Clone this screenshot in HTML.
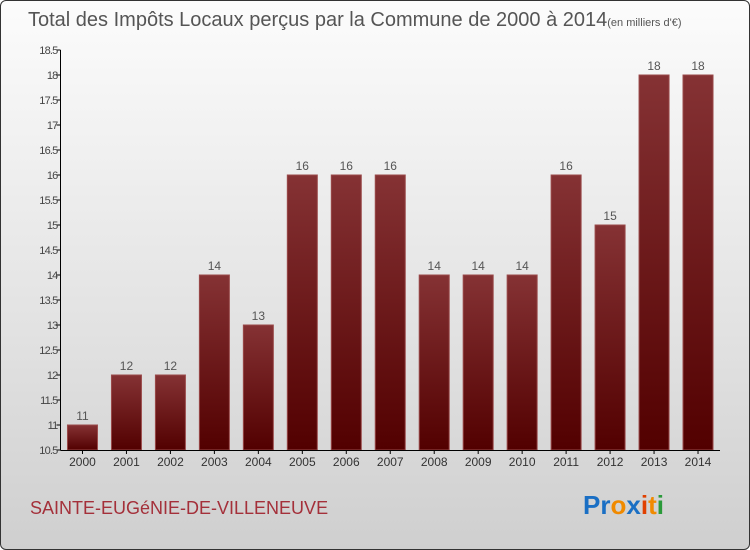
<!DOCTYPE html>
<html><head><meta charset="utf-8"><style>
html,body{margin:0;padding:0}
body{width:750px;height:550px;overflow:hidden;font-family:"Liberation Sans","DejaVu Sans",sans-serif}
#frame{position:absolute;left:0;top:0;width:748px;height:548px;border:1px solid #333;border-radius:6px;background:linear-gradient(#fcfcfc,#e2e2e2 60%,#cfcfcf);}
</style></head><body>
<div id="frame"></div>
<svg width="750" height="550" style="position:absolute;left:0;top:0">
<defs><linearGradient id="bg" x1="0" y1="0" x2="0" y2="1"><stop offset="0" stop-color="#853234"/><stop offset="1" stop-color="#520000"/></linearGradient></defs>
<text x="28" y="26" font-size="20" fill="#555">Total des Impôts Locaux perçus par la Commune de 2000 à 2014<tspan font-size="11">(en milliers d'€)</tspan></text>
<g id="plot"></g>
<text x="30" y="514" font-size="18" fill="#a4303a">SAINTE-EUGéNIE-DE-VILLENEUVE</text>
<text x="583" y="514" font-size="26" font-weight="bold"><tspan fill="#1a6fc4">Pr</tspan><tspan fill="#f08a00">o</tspan><tspan fill="#1a6fc4">x</tspan><tspan fill="#e04000">i</tspan><tspan fill="#f08a00">t</tspan><tspan fill="#2a9a3a">i</tspan></text>
</svg>
<script>
const years=["2000","2001","2002","2003","2004","2005","2006","2007","2008","2009","2010","2011","2012","2013","2014"];
const values=[11,12,12,14,13,16,16,16,14,14,14,16,15,18,18];
const valueLabels=["11","12","12","14","13","16","16","16","14","14","14","16","15","18","18"];
const yTicks=[10.5,11,11.5,12,12.5,13,13.5,14,14.5,15,15.5,16,16.5,17,17.5,18,18.5];
const NS="http://www.w3.org/2000/svg";
const g=document.getElementById('plot');
const x0=60.5,x1=720,yMin=10.5,yMax=18.5,yTop=50,yBot=450;
const y=v=>yBot-(v-yMin)/(yMax-yMin)*(yBot-yTop);
const slot=(x1-x0)/years.length;
const xc=i=>x0+slot*(i+0.5);
function el(t,a){const e=document.createElementNS(NS,t);for(const k in a)e.setAttribute(k,a[k]);g.appendChild(e);return e;}
yTicks.forEach(t=>{
 const l=el('line',{x1:x0-4,x2:x0,y1:y(t),y2:y(t),stroke:'#000'});
 
 
 const tx=el('text',{x:x0-3,y:y(t)+4,'font-size':11,fill:'#444','text-anchor':'end','letter-spacing':'-0.8'});
 tx.textContent=String(t);
 
 
});
years.forEach((yr,i)=>{
 const bw=30,top=y(values[i]);
 const r=el('rect',{x:xc(i)-bw/2,y:top,width:bw,height:yBot-top,fill:'url(#bg)',stroke:'#9a4a4a','stroke-width':1});
 
 
 const vl=el('text',{x:xc(i),y:top-5,'font-size':12,fill:'#555','text-anchor':'middle'});
 vl.textContent=valueLabels[i];
 
 
 const tk=el('line',{x1:xc(i),x2:xc(i),y1:yBot,y2:yBot+4,stroke:'#000'});
 
 
 const xl=el('text',{x:xc(i),y:yBot+16,'font-size':12,fill:'#333','text-anchor':'middle'});
 xl.textContent=yr;
 
 
});
const ax=el('line',{x1:x0,x2:x0,y1:yTop,y2:yBot,stroke:'#000'});


const bx=el('line',{x1:x0,x2:x1,y1:yBot+0.5,y2:yBot+0.5,stroke:'#000'});


</script>
</body></html>
